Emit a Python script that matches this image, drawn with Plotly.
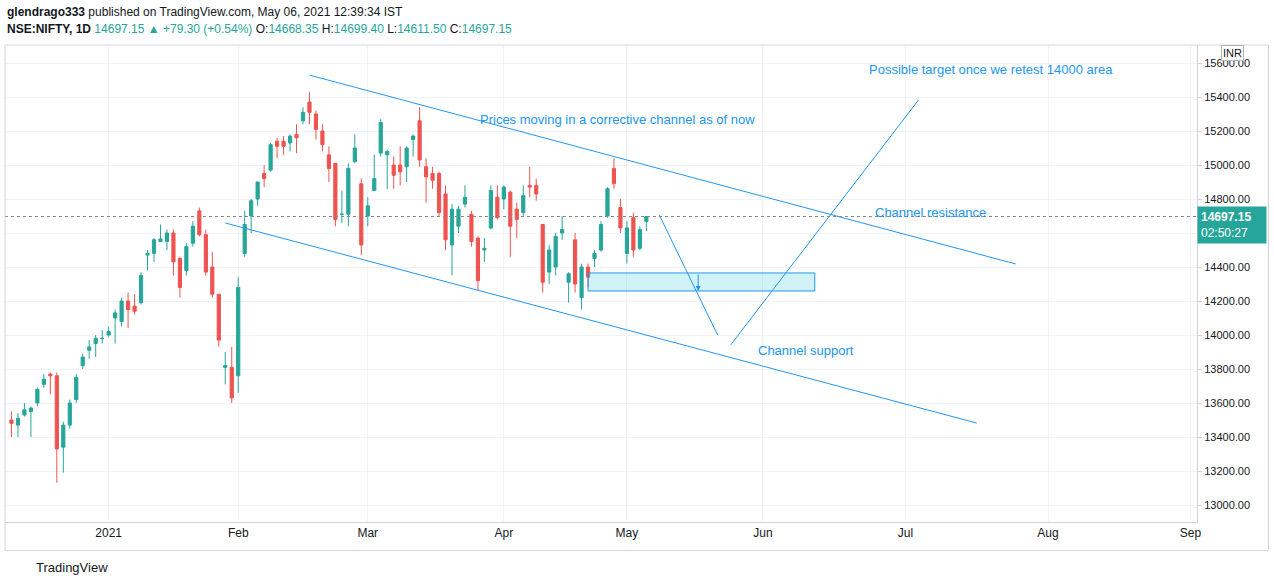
import plotly.graph_objects as go

dates = ["2020-12-10","2020-12-11","2020-12-14","2020-12-15","2020-12-16","2020-12-17","2020-12-18","2020-12-21","2020-12-22","2020-12-23","2020-12-24","2020-12-28","2020-12-29","2020-12-30","2020-12-31",
"2021-01-01","2021-01-04","2021-01-05","2021-01-06","2021-01-07","2021-01-08","2021-01-11","2021-01-12","2021-01-13","2021-01-14","2021-01-15","2021-01-18","2021-01-19","2021-01-20","2021-01-21","2021-01-22","2021-01-25","2021-01-27","2021-01-28","2021-01-29",
"2021-02-01","2021-02-02","2021-02-03","2021-02-04","2021-02-05","2021-02-08","2021-02-09","2021-02-10","2021-02-11","2021-02-12","2021-02-15","2021-02-16","2021-02-17","2021-02-18","2021-02-19","2021-02-22","2021-02-23","2021-02-24","2021-02-25","2021-02-26",
"2021-03-01","2021-03-02","2021-03-03","2021-03-04","2021-03-05","2021-03-08","2021-03-09","2021-03-10","2021-03-12","2021-03-15","2021-03-16","2021-03-17","2021-03-18","2021-03-19","2021-03-22","2021-03-23","2021-03-24","2021-03-25","2021-03-26","2021-03-30","2021-03-31",
"2021-04-01","2021-04-05","2021-04-06","2021-04-07","2021-04-08","2021-04-09","2021-04-12","2021-04-13","2021-04-15","2021-04-16","2021-04-19","2021-04-20","2021-04-22","2021-04-23","2021-04-26","2021-04-27","2021-04-28","2021-04-29","2021-04-30",
"2021-05-03","2021-05-04","2021-05-05","2021-05-06"]

opens = [13500,13470,13530,13550,13600,13710,13770,13760,13340,13470,13620,13820,13910,13950,13980,
14000,14100,14080,14200,14170,14190,14470,14480,14550,14550,14600,14450,14380,14540,14730,14590,14400,14240,13810,13810,
13760,14480,14700,14800,14950,14970,15140,15140,15130,15180,15260,15370,15300,15200,15060,15010,14710,14710,15020,14890,
14700,14850,15070,15060,15000,15000,14990,15150,15260,14990,14950,14950,14830,14530,14640,14770,14710,14570,14500,14630,14810,
14800,14840,14740,14720,14880,14880,14650,14370,14400,14600,14310,14560,14220,14400,14450,14500,14700,14980,14750,
14480,14690,14510,14668.35]
highs = [13550,13540,13600,13580,13690,13770,13780,13780,13490,13620,13770,13890,13970,14000,14030,
14050,14150,14220,14250,14240,14370,14500,14570,14650,14620,14620,14460,14540,14670,14750,14620,14490,14240,13900,13930,
14340,14730,14800,14900,15000,15130,15160,15170,15180,15240,15340,15430,15320,15240,15110,15010,14850,15010,15180,14920,
14810,15060,15270,15090,15050,15110,15110,15180,15340,15040,14990,14960,14880,14770,14760,14880,14730,14580,14570,14880,14880,
14880,14850,14780,14880,14990,14920,14650,14530,14600,14700,14370,14600,14420,14420,14500,14670,14870,15040,14800,
14670,14720,14640,14699.40]
lows = [13400,13400,13520,13400,13580,13690,13650,13130,13190,13450,13600,13800,13860,13870,13950,
13990,13950,14050,14040,14120,14180,14380,14430,14550,14500,14350,14220,14350,14520,14580,14350,14220,13930,13710,13600,
13660,14460,14600,14760,14870,14960,15040,15060,15080,15070,15240,15240,15150,15080,14900,14640,14660,14640,15010,14470,
14640,14850,15050,14860,14860,14880,14900,15050,14990,14780,14860,14700,14500,14350,14600,14750,14520,14260,14430,14620,14680,
14740,14460,14570,14700,14810,14790,14250,14300,14350,14560,14190,14250,14150,14280,14400,14490,14690,14860,14600,
14420,14460,14500,14611.50]
closes = [13480,13510,13560,13570,13680,13740,13760,13330,13470,13600,13750,13870,13930,13980,13980,
14020,14130,14200,14150,14140,14350,14480,14560,14565,14600,14430,14280,14520,14640,14590,14370,14240,13970,13820,13630,
14280,14650,14790,14900,14920,15120,15110,15110,15170,15160,15310,15310,15210,15120,14980,14680,14710,14980,15100,14530,
14760,14920,15250,15080,14940,14960,15100,15170,15030,14930,14910,14720,14560,14740,14740,14810,14550,14320,14510,14850,14690,
14870,14640,14680,14820,14870,14830,14310,14500,14580,14620,14360,14300,14400,14340,14480,14650,14860,14890,14630,
14630,14500,14620,14697.15]

holidays = ["2020-12-25","2021-01-26","2021-03-11","2021-03-29","2021-04-02","2021-04-14","2021-04-21"]
tick_dates = ["2021-01-01","2021-02-01","2021-03-01","2021-04-01","2021-05-03","2021-06-01","2021-07-01","2021-08-02","2021-09-01"]
tick_labels = ["2021","Feb","Mar","Apr","May","Jun","Jul","Aug","Sep"]
y_ticks = list(range(13000, 15601, 200))

# drawing objects (date, price)
resistance = (["2021-02-16","2021-07-26"], [15529, 14418])
support = (["2021-01-28","2021-07-16"], [14659, 13482])
target = (["2021-05-25","2021-07-05"], [13941, 15382])
path = (["2021-05-10","2021-05-21"], [14706, 14000])
zone = ("2021-04-23", "2021-06-11", 14259, 14365)
zone_arrow = ("2021-05-18", 14365, 14259)
last_price = 14697.15

BLUE = "#2196f3"
UP = "#26a69a"
DOWN = "#ef5350"

fig = go.Figure()
fig.add_trace(go.Candlestick(x=dates, open=opens, high=highs, low=lows, close=closes,
    increasing=dict(line=dict(color=UP, width=1), fillcolor=UP),
    decreasing=dict(line=dict(color=DOWN, width=1), fillcolor=DOWN),
    whiskerwidth=0, showlegend=False, hoverinfo="skip"))

for xs, ys in [resistance, support, target, path]:
    fig.add_trace(go.Scatter(x=xs, y=ys, mode="lines", line=dict(color=BLUE, width=1), showlegend=False, hoverinfo="skip"))

fig.add_shape(type="rect", x0=zone[0], x1=zone[1], y0=zone[2], y1=zone[3],
              line=dict(color=BLUE, width=1), fillcolor="rgba(0,188,212,0.18)")
fig.add_annotation(x=zone_arrow[0], y=zone_arrow[2], ax=zone_arrow[0], ay=zone_arrow[1],
                   xref="x", yref="y", axref="x", ayref="y", showarrow=True,
                   arrowhead=2, arrowsize=1, arrowwidth=1, arrowcolor=BLUE, text="")
fig.add_hline(y=last_price, line=dict(color="#888888", width=1, dash="dot"))

txt = dict(font=dict(color=BLUE, size=13, family="Liberation Sans, Arial"), showarrow=False, xanchor="left")
fig.add_annotation(x="2021-03-25", y=15270, text="Prices moving in a corrective channel as of now", **txt)
fig.add_annotation(x="2021-06-23", y=15560, text="Possible target once we retest 14000 area", **txt)
fig.add_annotation(x="2021-06-24", y=14720, text="Channel resistance", **txt)
fig.add_annotation(x="2021-05-31", y=13910, text="Channel support", **txt)

fig.add_annotation(xref="paper", yref="y", x=1.0, y=last_price, yshift=-8, text="<b>14697.15</b><br>02:50:27",
                   showarrow=False, xanchor="left", bgcolor=UP, font=dict(color="white", size=12),
                   borderpad=3, align="left", width=62)
fig.add_annotation(xref="paper", yref="paper", x=1.02, y=1.0, text="INR", showarrow=False,
                   xanchor="left", yanchor="top", font=dict(size=11, color="#131722"),
                   bgcolor="white", bordercolor="#b2b5be", borderwidth=1, borderpad=1)

fig.add_annotation(xref="paper", yref="paper", x=0.0, y=1.069, xanchor="left", yanchor="middle", showarrow=False,
    text="<b>glendrago333</b> published on TradingView.com, May 06, 2021 12:39:34 IST",
    font=dict(size=12, color="#131722", family="Liberation Sans, Arial"))
fig.add_annotation(xref="paper", yref="paper", x=0.0, y=1.034, xanchor="left", yanchor="middle", showarrow=False,
    text="<b>NSE:NIFTY, 1D</b> <span style='color:#26a69a'>14697.15 ▲ +79.30 (+0.54%)</span> O:<span style='color:#26a69a'>14668.35</span> H:<span style='color:#26a69a'>14699.40</span> L:<span style='color:#26a69a'>14611.50</span> C:<span style='color:#26a69a'>14697.15</span>",
    font=dict(size=12, color="#131722", family="Liberation Sans, Arial"))
fig.add_annotation(xref="paper", yref="paper", x=0.024, y=-0.096, xanchor="left", yanchor="middle", showarrow=False,
    text="TradingView", font=dict(size=13, color="#131722", family="Liberation Sans, Arial"))
fig.add_shape(type="rect", xref="paper", yref="paper", x0=0, x1=1.06, y0=-0.06, y1=1.0,
              line=dict(color="#d1d4dc", width=1))

fig.update_layout(
    width=1274, height=587, paper_bgcolor="white", plot_bgcolor="white",
    margin=dict(l=5, r=77, t=45, b=65, autoexpand=False),
    font=dict(family="Liberation Sans, Arial", size=12, color="#131722"),
    xaxis=dict(rangeslider=dict(visible=False), range=["2020-12-09 00:00", "2021-09-02"],
               rangebreaks=[dict(bounds=["sat", "mon"]), dict(values=holidays)],
               tickvals=tick_dates, ticktext=tick_labels, showgrid=True, gridcolor="#f0f3fa",
               showline=True, linecolor="#d1d4dc", ticks="", tickfont=dict(size=12)),
    yaxis=dict(side="right", range=[12900, 15706], tickvals=y_ticks,
               ticktext=[f"{v}.00" for v in y_ticks], showgrid=True, gridcolor="#f0f3fa",
               showline=True, linecolor="#d1d4dc", ticks="outside", ticklen=4, tickcolor="#d1d4dc",
               tickfont=dict(size=11), zeroline=False),
)
fig.write_html("out.html", config={"displayModeBar": False},
               post_script="document.body.style.margin='0';document.body.style.overflow='hidden';")
